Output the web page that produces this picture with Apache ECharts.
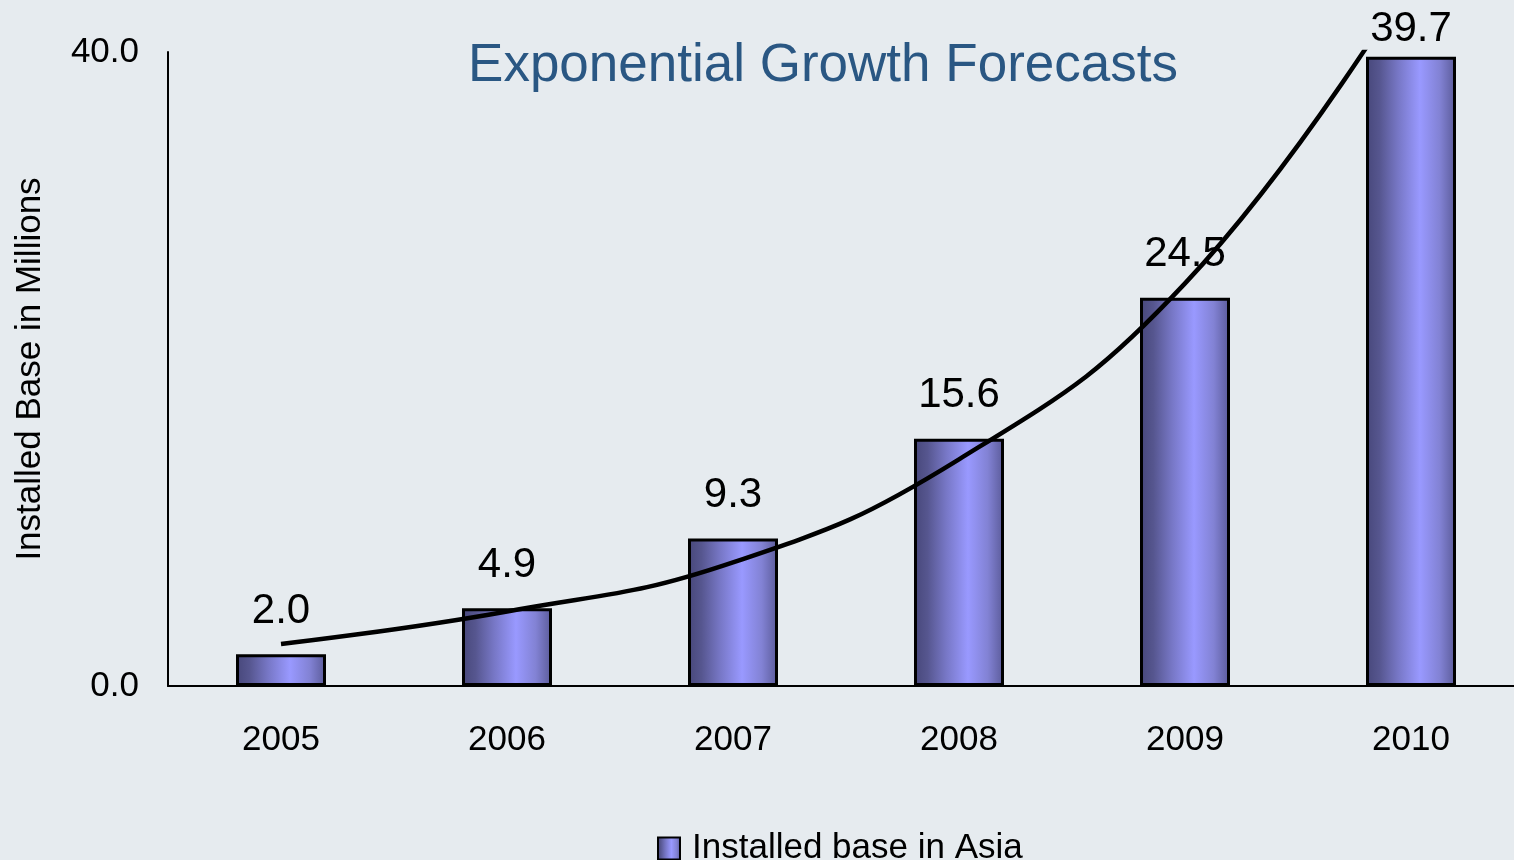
<!DOCTYPE html>
<html>
<head>
<meta charset="utf-8">
<script src="https://cdn.jsdelivr.net/npm/echarts@6/dist/echarts.min.js"></script>
<style>
html,body{margin:0;padding:0;background:#E6EBEF;}
#chart{width:1514px;height:860px;}
</style>
</head>
<body>
<div id="chart"></div>
<script>
const categories = ['2005', '2006', '2007', '2008', '2009', '2010'];
const installedBase = [2.0, 4.9, 9.3, 15.6, 24.5, 39.7];
const trendValues = [2.65, 4.7, 7.8, 14.3, 25.4, 44.7];
const yTicks = [0, 40];
const seriesName = 'Installed base in Asia';
const titleText = 'Exponential Growth Forecasts';
const yAxisName = 'Installed Base in Millions';

const FONT = 'Liberation Sans, Arial, sans-serif';

const barGradient = {
  type: 'linear', x: 0, y: 0, x2: 1, y2: 0,
  colorStops: [
    { offset: 0, color: '#47477A' },
    { offset: 0.15, color: '#56568F' },
    { offset: 0.35, color: '#7676C4' },
    { offset: 0.6, color: '#9999FF' },
    { offset: 0.82, color: '#8282D4' },
    { offset: 1, color: '#5A5A98' }
  ]
};

const barData = installedBase.map((v, i) => {
  const item = { value: v };
  if (i === installedBase.length - 1) item.label = { distance: 6 };
  return item;
});

const chart = echarts.init(document.getElementById('chart'));
chart.setOption({
  backgroundColor: '#E6EBEF',
  animation: false,
  textStyle: { fontFamily: FONT },
  title: {
    text: titleText,
    left: 818, top: 35, textAlign: 'center',
    textStyle: { color: '#2A5783', fontSize: 53, fontWeight: 'normal', fontFamily: FONT }
  },
  legend: {
    data: [{ name: seriesName, icon: 'rect' }],
    left: 652, top: 826,
    itemWidth: 22, itemHeight: 22, itemGap: 10,
    textStyle: { fontSize: 35, color: '#000', fontFamily: FONT, padding: [0, 0, 0, 7] },
    itemStyle: { borderColor: '#000', borderWidth: 2 }
  },
  grid: { left: 168, top: 52, bottom: 174, right: -10, outerBoundsMode: 'none', containLabel: false },
  xAxis: {
    type: 'category',
    data: categories,
    axisLine: { lineStyle: { color: '#000', width: 2 } },
    axisTick: { show: false },
    axisLabel: { fontSize: 35, color: '#000', margin: 37, fontFamily: FONT }
  },
  yAxis: {
    type: 'value',
    min: yTicks[0], max: yTicks[yTicks.length - 1], interval: yTicks[1] - yTicks[0],
    name: yAxisName,
    nameLocation: 'middle', nameGap: 120, nameRotate: 90,
    nameTextStyle: { fontSize: 35, color: '#000', fontFamily: FONT },
    axisLine: { show: true, lineStyle: { color: '#000', width: 2 } },
    axisTick: { show: false },
    splitLine: { show: false },
    axisLabel: { fontSize: 35, color: '#000', margin: 29, formatter: v => v.toFixed(1), fontFamily: FONT }
  },
  series: [
    {
      name: seriesName,
      type: 'bar',
      data: barData,
      barWidth: 90,
      itemStyle: { color: barGradient, borderColor: '#000', borderWidth: 3 },
      label: { show: true, position: 'top', distance: 22, fontSize: 42, color: '#000', formatter: p => p.value.toFixed(1), fontFamily: FONT }
    },
    {
      name: 'trend',
      type: 'line',
      data: trendValues,
      smooth: 0.45,
      showSymbol: false,
      symbol: 'none',
      clip: true,
      lineStyle: { color: '#000', width: 4.5 },
      z: 5
    }
  ]
});
</script>
</body>
</html>
